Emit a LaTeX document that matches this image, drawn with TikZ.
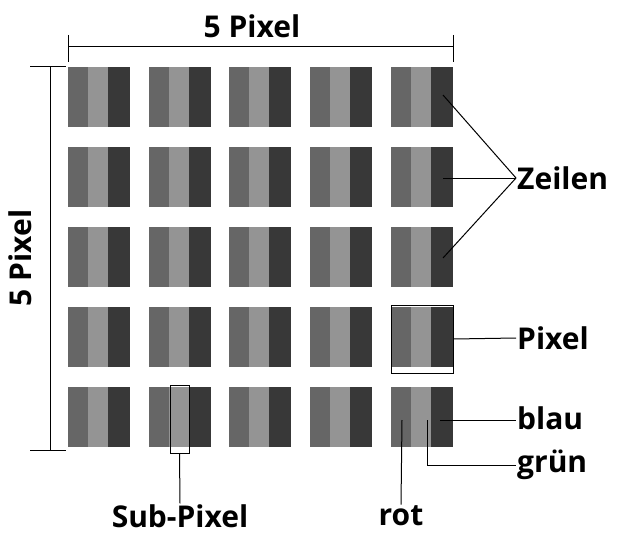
\documentclass[tikz,border=0pt]{standalone}
\usepackage{fontspec}
\setmainfont{Open Sans}
\usetikzlibrary{positioning,calc}
\tikzset{
	red sub/.style={fill=black!60,draw=none},
	green sub/.style={fill=black!42,draw=none},
	blue sub/.style={fill=black!78,draw=none},
	callout/.style={font=\bfseries\fontsize{30}{34}\selectfont,inner sep=1pt},
	leader/.style={black,line width=1pt},
}
\begin{document}
\begin{tikzpicture}[x=1pt,y=-1pt]
	\useasboundingbox (0,0) rectangle (621,535);
	% the 5x5 pixel grid
	\foreach \c in {0,...,4}{
		\foreach \r in {0,...,4}{
			\fill[red sub] ($(68+80.7*\c,67+80*\r)$) rectangle ++(20,60);
			\fill[green sub] ($(88+80.7*\c,67+80*\r)$) rectangle ++(20,60);
			\fill[blue sub] ($(108+80.7*\c,67+80*\r)$) rectangle ++(22,60);
		}
	}
	% dimensions
	\coordinate (tl) at (68,47);
	\coordinate (tr) at (453,47);
	\draw[leader] (tl) -- (tr);
	\draw[leader] (68,35) -- (68,62);
	\draw[leader] (453,35) -- (453,62);
	\node[callout] (wdim) at (252,26) {5 Pixel};
	\coordinate (lt) at (50,67);
	\coordinate (lb) at (50,450);
	\draw[leader] (lt) -- (lb);
	\draw[leader] (30,67) -- (66,67);
	\draw[leader] (30,450) -- (66,450);
	\node[callout,rotate=90] (hdim) at (20,258) {5 Pixel};
	% labels
	\node[callout,anchor=west] (zeilen) at (516,178) {Zeilen};
	\node[callout,anchor=west] (pixel) at (516,338) {Pixel};
	\node[callout,anchor=west] (blau) at (516,418) {blau};
	\node[callout,anchor=west] (gruen) at (516,465) {grün};
	\node[callout] (rot) at (401,516) {rot};
	\node[callout] (sub) at (180,516) {Sub-Pixel};
	% frames
	\node[draw,line width=1pt,minimum width=62pt,minimum height=68pt,inner sep=0pt] (pbox) at (422,339) {};
	\node[draw,line width=1pt,minimum width=19pt,minimum height=68pt,inner sep=0pt] (sbox) at (179.5,419) {};
	% leaders
	\coordinate (z1) at (443,95);
	\coordinate (z2) at (443,178);
	\coordinate (z3) at (443,258);
	\draw[leader] (z1) -- (zeilen.west);
	\draw[leader] (z2) -- (zeilen.west);
	\draw[leader] (z3) -- (zeilen.west);
	\draw[leader] (pbox.east) -- (pixel.west);
	\coordinate (b) at (440,420);
	\draw[leader] (b) -- (blau.west |- b);
	\coordinate (g) at (427,420);
	\draw[leader] (g) |- (gruen.west);
	\coordinate (r) at (402,420);
	\draw[leader] (r) -- (rot.north);
	\draw[leader] (sbox.south) -- (sub.north);
\end{tikzpicture}
\end{document}
